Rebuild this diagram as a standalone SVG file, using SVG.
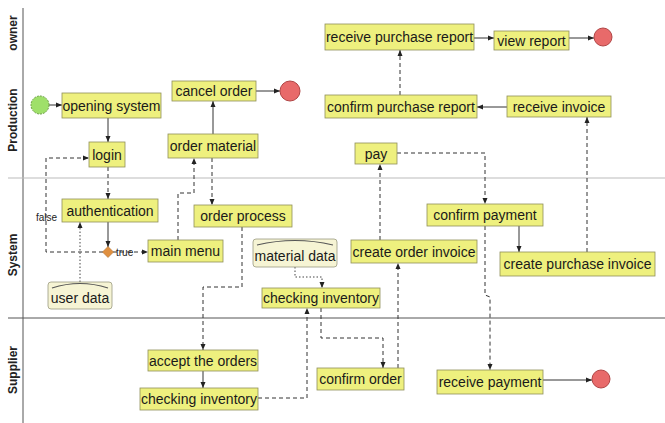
<svg xmlns="http://www.w3.org/2000/svg" width="665" height="423" viewBox="0 0 665 423">
<style>
.bg{fill:#ffffff}
.lane{stroke:#555;stroke-width:1;fill:none}
.lane2{stroke:#bbb;stroke-width:1;fill:none}
.lanelbl{font-family:"Liberation Sans",Arial,sans-serif;font-size:12px;font-weight:bold;fill:#222;text-anchor:middle}
.act rect{fill:#eef07e;stroke:#8f8f5a;stroke-width:0.8}
.act text,.store text{font-family:"Liberation Sans",Arial,sans-serif;font-size:14px;fill:#1a1a1a;text-anchor:middle}
.store rect{fill:#f6f4d4;stroke:#9a9a80;stroke-width:0.8}
.store path{fill:none;stroke:#555;stroke-width:1.2}
.endc{fill:#e86a6a;stroke:#b04545;stroke-width:1}
.startc{fill:#9fe06a;stroke:#6aa040;stroke-width:1;stroke-dasharray:2,1}
.c{fill:none;stroke:#333;stroke-width:1}
.d{fill:none;stroke:#333;stroke-width:1;stroke-dasharray:4,3}
.o{fill:none;stroke:#444;stroke-width:1;stroke-dasharray:1.5,2}
.small{font-family:"Liberation Sans",Arial,sans-serif;font-size:10px;fill:#222}
</style>
<defs>
<marker id="ah" markerWidth="6" markerHeight="6" refX="6" refY="3" orient="auto" markerUnits="userSpaceOnUse">
<path d="M0,0.5 L6,3 L0,5.5 z" fill="#222"/>
</marker>
</defs>
<rect class="bg" x="0" y="0" width="665" height="423"/>
<g id="lanes">
<line class="lane" x1="23" y1="8" x2="23" y2="423"/>
<line class="lane2" x1="8" y1="178" x2="665" y2="178"/>
<line class="lane" x1="8" y1="318" x2="665" y2="318"/>
<text class="lanelbl" transform="translate(17,33) rotate(-90)">owner</text>
<text class="lanelbl" transform="translate(17,120) rotate(-90)">Production</text>
<text class="lanelbl" transform="translate(17,255) rotate(-90)">System</text>
<text class="lanelbl" transform="translate(17,370) rotate(-90)">Supplier</text>
</g>
<g id="connectors">
<line class="c" x1="49" y1="105" x2="62" y2="105" marker-end="url(#ah)"/>
<line class="c" x1="108" y1="118" x2="108" y2="142" marker-end="url(#ah)"/>
<line class="d" x1="108" y1="167" x2="108" y2="199" marker-end="url(#ah)"/>
<line class="c" x1="108" y1="222" x2="108" y2="247" marker-end="url(#ah)"/>
<line class="d" x1="113" y1="252" x2="148" y2="252" marker-end="url(#ah)"/>
<polyline class="d" points="103,252 46,252 46,158 89,158" marker-end="url(#ah)"/>
<line class="o" x1="80" y1="282" x2="80" y2="222" marker-end="url(#ah)"/>
<polyline class="d" points="178,240 178,193 194,193 194,158" marker-end="url(#ah)"/>
<line class="d" x1="212" y1="158" x2="212" y2="205" marker-end="url(#ah)"/>
<line class="c" x1="213" y1="134" x2="213" y2="101" marker-end="url(#ah)"/>
<line class="c" x1="256" y1="91" x2="280" y2="91" marker-end="url(#ah)"/>
<polyline class="d" points="242,227 242,287 203,287 203,350" marker-end="url(#ah)"/>
<polyline class="o" points="295,267 295,277 322,277 322,288" marker-end="url(#ah)"/>
<polyline class="d" points="258,398 307,398 307,308" marker-end="url(#ah)"/>
<polyline class="d" points="321,308 321,338 383,338 383,368" marker-end="url(#ah)"/>
<line class="c" x1="203" y1="371" x2="203" y2="388" marker-end="url(#ah)"/>
<line class="d" x1="398" y1="368" x2="398" y2="263" marker-end="url(#ah)"/>
<line class="d" x1="380" y1="240" x2="380" y2="164" marker-end="url(#ah)"/>
<polyline class="d" points="397,153 485,153 485,204" marker-end="url(#ah)"/>
<polyline class="d" points="485,226 485,295 490,297 490,370" marker-end="url(#ah)"/>
<line class="c" x1="519" y1="226" x2="519" y2="252" marker-end="url(#ah)"/>
<line class="d" x1="587" y1="252" x2="587" y2="117" marker-end="url(#ah)"/>
<line class="c" x1="507" y1="107" x2="477" y2="107" marker-end="url(#ah)"/>
<line class="d" x1="400" y1="95" x2="400" y2="50" marker-end="url(#ah)"/>
<line class="c" x1="474" y1="38" x2="494" y2="38" marker-end="url(#ah)"/>
<line class="c" x1="569" y1="38" x2="594" y2="38" marker-end="url(#ah)"/>
<line class="c" x1="543" y1="380" x2="592" y2="380" marker-end="url(#ah)"/>
<text class="small" x="116" y="256">true</text>
<text class="small" x="36" y="221">false</text>
</g>
<g id="start"><circle class="startc" cx="40" cy="105" r="9"/></g>
<g id="opening-system" class="act"><rect x="62" y="93" width="99" height="25"/><text x="111.5" y="110.5">opening system</text></g>
<g id="login" class="act"><rect x="89" y="142" width="36" height="25"/><text x="107" y="159.5">login</text></g>
<g id="cancel-order" class="act"><rect x="172" y="81" width="84" height="20"/><text x="214" y="96">cancel order</text></g>
<g id="end-cancel"><circle class="endc" cx="290" cy="91" r="10"/></g>
<g id="order-material" class="act"><rect x="168" y="134" width="90" height="24"/><text x="213" y="151">order material</text></g>
<g id="receive-purchase-report" class="act"><rect x="325" y="24" width="149" height="26"/><text x="399.5" y="42">receive purchase report</text></g>
<g id="view-report" class="act"><rect x="494" y="31" width="75" height="19"/><text x="531.5" y="45.5">view report</text></g>
<g id="end-report"><circle class="endc" cx="603" cy="37" r="9"/></g>
<g id="confirm-purchase-report" class="act"><rect x="325" y="95" width="152" height="23"/><text x="401" y="111.5">confirm purchase report</text></g>
<g id="receive-invoice" class="act"><rect x="507" y="96" width="104" height="21"/><text x="559" y="111.5">receive invoice</text></g>
<g id="pay" class="act"><rect x="355" y="143" width="42" height="21"/><text x="376" y="158.5">pay</text></g>
<g id="authentication" class="act"><rect x="62" y="199" width="96" height="23"/><text x="110" y="215.5">authentication</text></g>
<g id="decision"><path d="M108,246.5 L113.5,252 L108,257.5 L102.5,252 z" fill="#e09040" stroke="#b07030" stroke-width="0.6"/></g>
<g id="main-menu" class="act"><rect x="148" y="240" width="75" height="22"/><text x="185.5" y="256">main menu</text></g>
<g id="order-process" class="act"><rect x="194" y="205" width="98" height="22"/><text x="243" y="221">order process</text></g>
<g id="user-data" class="store"><rect x="48" y="282" width="64" height="27" rx="3"/><path d="M52,288 Q80,279 108,288"/><text x="80" y="303">user data</text></g>
<g id="material-data" class="store"><rect x="253" y="239" width="84" height="28" rx="3"/><path d="M257,245 Q295,236 333,245"/><text x="295" y="261">material data</text></g>
<g id="checking-inventory-sys" class="act"><rect x="262" y="288" width="118" height="20"/><text x="321" y="303">checking inventory</text></g>
<g id="create-order-invoice" class="act"><rect x="351" y="240" width="126" height="23"/><text x="414" y="256.5">create order invoice</text></g>
<g id="confirm-payment" class="act"><rect x="427" y="204" width="116" height="22"/><text x="485" y="220">confirm payment</text></g>
<g id="create-purchase-invoice" class="act"><rect x="500" y="252" width="155" height="24"/><text x="577.5" y="269">create purchase invoice</text></g>
<g id="accept-the-orders" class="act"><rect x="148" y="350" width="110" height="21"/><text x="203" y="365.5">accept the orders</text></g>
<g id="checking-inventory-sup" class="act"><rect x="140" y="388" width="118" height="22"/><text x="199" y="404">checking inventory</text></g>
<g id="confirm-order" class="act"><rect x="317" y="368" width="87" height="22"/><text x="360.5" y="384">confirm order</text></g>
<g id="receive-payment" class="act"><rect x="437" y="370" width="106" height="24"/><text x="490" y="387">receive payment</text></g>
<g id="end-payment"><circle class="endc" cx="601" cy="379" r="9"/></g>
</svg>
